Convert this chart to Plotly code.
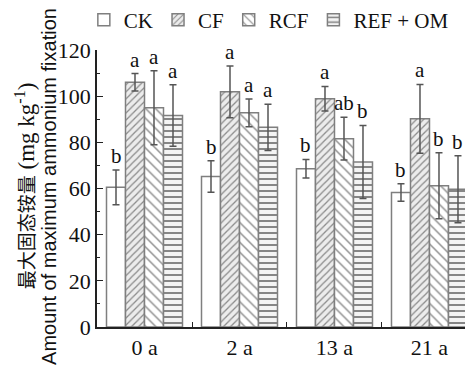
import plotly.graph_objects as go

categories = ["0 a", "2 a", "13 a", "21 a"]
series_names = ["CK", "CF", "RCF", "REF + OM"]
ck = [60.5, 65.2, 68.6, 58.3]
ck_err = [7.5, 6.8, 4.0, 3.8]
cf = [106.0, 101.9, 98.9, 90.2]
cf_err = [3.8, 11.2, 5.3, 14.9]
rcf = [95.0, 92.8, 81.6, 61.2]
rcf_err = [16.0, 6.0, 9.3, 14.3]
ref = [91.6, 86.5, 71.5, 59.7]
ref_err = [13.3, 10.0, 15.8, 14.5]
ck_sig = ["b", "b", "b", "b"]
cf_sig = ["a", "a", "a", "a"]
rcf_sig = ["a", "a", "ab", "b"]
ref_sig = ["a", "a", "b", "b"]

values = [ck, cf, rcf, ref]
errors = [ck_err, cf_err, rcf_err, ref_err]
sigs = [ck_sig, cf_sig, rcf_sig, ref_sig]

patterns = [
    dict(shape="", fillmode="replace"),
    dict(shape="/", size=5, solidity=0.25, fgcolor="#8a8a8a", bgcolor="#ececec", fillmode="replace"),
    dict(shape="\\", size=7, solidity=0.2, fgcolor="#8a8a8a", bgcolor="#ffffff", fillmode="replace"),
    dict(shape="-", size=6, solidity=0.3, fgcolor="#7a7a7a", bgcolor="#f4f4f4", fillmode="replace"),
]

serif = "Liberation Serif, Times New Roman, serif"

fig = go.Figure()
for i, name in enumerate(series_names):
    fig.add_trace(go.Bar(
        x=categories, y=values[i], name=name,
        marker=dict(color="white", line=dict(color="#7f7f7f", width=1.5), pattern=patterns[i]),
        error_y=dict(type="data", array=errors[i], visible=True, color="#555555", thickness=1.5, width=3.5),
        offsetgroup=str(i),
    ))

# significance letters
nb = len(series_names)
bw = 0.8 / nb
for i in range(nb):
    for j, c in enumerate(categories):
        xoff = -0.4 + bw * (i + 0.5)
        fig.add_annotation(
            x=j + xoff, y=values[i][j] + errors[i][j], xref="x", yref="y",
            text=sigs[i][j], showarrow=False, yanchor="bottom", yshift=0,
            font=dict(family=serif, size=21, color="#111"),
        )

# y-axis title lines
fig.add_annotation(
    x=-0.19, y=0.51, xref="paper", yref="paper", textangle=-90, showarrow=False,
    xanchor="center", yanchor="middle",
    text="<span style=\"font-family:'Noto Sans CJK SC';font-size:19px;fill:#111111\">最大固态铵量</span> (mg kg<sup>-1</sup>)",
    font=dict(family=serif, size=23, color="#111111"),
)
fig.add_annotation(
    x=-0.128, y=0.509, xref="paper", yref="paper", textangle=-90, showarrow=False,
    xanchor="center", yanchor="middle",
    text="Amount of maximum ammonium fixation",
    font=dict(family="Liberation Sans, Arial", size=20, color="#111"),
)

fig.update_layout(
    width=465, height=360,
    margin=dict(l=89, r=0, t=42, b=41, autoexpand=False),
    paper_bgcolor="white", plot_bgcolor="white",
    barmode="group", bargap=0.2, bargroupgap=0,
    showlegend=True,
    legend=dict(orientation="h", x=-0.035, y=1.108, xanchor="left", yanchor="middle",
                font=dict(family=serif, size=21, color="#111"),
                itemwidth=30, tracegroupgap=0, bgcolor="rgba(0,0,0,0)"),
    font=dict(family=serif, size=22, color="#111"),
)
fig.update_xaxes(
    type="category", range=[-0.5, 3.458], showline=True, linecolor="#222", linewidth=1.5,
    ticks="inside", tickson="boundaries", ticklen=5, tickcolor="#222", tickwidth=1.2,
    showgrid=False, zeroline=False,
    tickfont=dict(family=serif, size=22, color="#111"),
)
fig.update_yaxes(
    range=[0, 120], dtick=20, showline=True, linecolor="#222", linewidth=1.5,
    ticks="inside", ticklen=6, tickcolor="#222", tickwidth=1.2,
    minor=dict(dtick=10, ticks="inside", ticklen=3, tickcolor="#222"),
    showgrid=False, zeroline=False,
    tickfont=dict(family=serif, size=22, color="#111"),
)

fig.write_html("out.html")
